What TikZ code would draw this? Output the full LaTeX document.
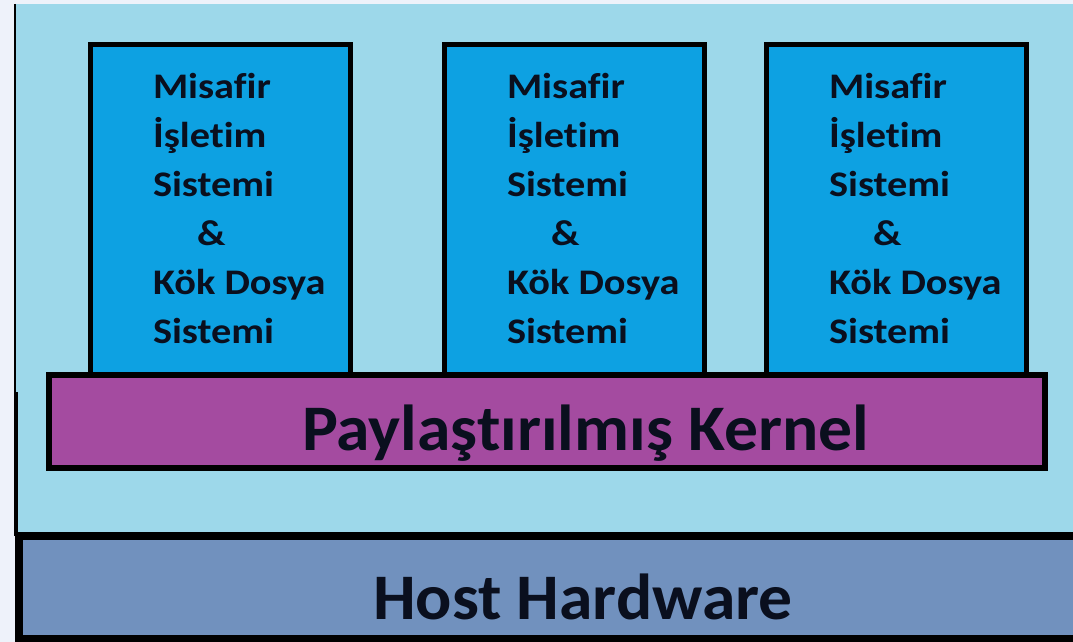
\documentclass[tikz,border=0pt]{standalone}
\usepackage{fontspec}
\setmainfont{Carlito}
\newfontfamily\guestfont[FakeStretch=1.12, Ligatures=NoCommon]{Carlito Bold}
\newfontfamily\layerfont[FakeStretch=1.04, Ligatures=NoCommon]{Carlito Bold}
\usepackage{tikz}
\definecolor{pagebg}{HTML}{EEF2FA}
\definecolor{panelblue}{HTML}{9DD8EA}
\definecolor{guestblue}{HTML}{0DA1E2}
\definecolor{kernelpurple}{HTML}{A44BA0}
\definecolor{hostblue}{HTML}{7191BE}
\definecolor{textdark}{HTML}{0A0F1E}

\begin{document}
\begin{tikzpicture}[
    x=1pt, y=-1pt,
    every node/.style={inner sep=0pt, outer sep=0pt},
    guestbox/.style={
        rectangle, draw=black, line width=5.5pt,
        fill=guestblue, anchor=north west,
        minimum width=260pt, minimum height=346pt
    },
    guesttext/.style={
        anchor=base west, align=left, text=textdark,
        font=\guestfont\fontsize{36}{49}\selectfont
    },
    layerbox/.style={rectangle, draw=black, anchor=north west},
    layertext/.style={
        anchor=base west, text=textdark,
        font=\layerfont\fontsize{65}{78}\selectfont
    }
]
\fill[pagebg] (0,0) rectangle (1073,642);
\useasboundingbox (0,0) rectangle (1073,642);
\fill[panelblue] (15,4) rectangle (1073,540);
\draw[line width=2pt] (15,4) -- (15,392);
\draw[line width=4pt] (16,392) -- (16,536);

\foreach \x/\n in {90.5/1, 444.5/2, 766.5/3}{
    \node[guestbox] (guest\n) at (\x,44.5) {};
    \node[guesttext] (guesttext\n) at ([xshift=62.5pt, yshift=-299pt]guest\n.north west)
        {Misafir\\İşletim\\Sistemi\\\hspace*{44pt}\&\\Kök Dosya\\Sistemi};
}

\node[layerbox, line width=6pt, fill=kernelpurple,
    minimum width=996pt, minimum height=93pt] (kernel) at (49,375) {};
\node[layertext] (kerneltext) at (302,450) {Paylaştırılmış Kernel};

\node[layerbox, line width=8pt, fill=hostblue,
    minimum width=1071pt, minimum height=103pt] (host) at (19,536) {};
\node[layertext] (hosttext) at (373,619) {Host Hardware};
\end{tikzpicture}
\end{document}
